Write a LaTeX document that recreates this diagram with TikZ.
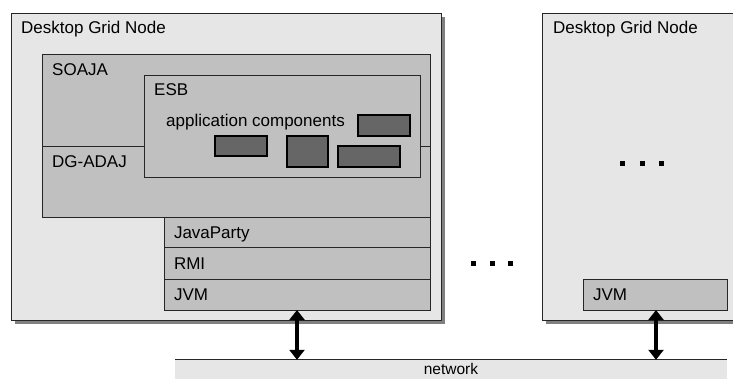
\documentclass[tikz,border=0pt]{standalone}
\usepackage{fontspec}
\setmainfont{Liberation Sans}
\usetikzlibrary{arrows.meta}
\definecolor{paleGray}{HTML}{E6E6E6}
\definecolor{midGray}{HTML}{C0C0C0}
\definecolor{darkGray}{HTML}{666666}
\definecolor{shadowGray}{HTML}{808080}
\tikzset{
  box/.style={draw=black!85,line width=0.8pt},
  layer/.style={box,fill=midGray,anchor=north west,outer sep=0pt,
    minimum height=#1,text width=246pt,inner xsep=10pt,inner ysep=0pt,
    align=left,text height=12pt,text depth=0pt},
  comp/.style={draw=black,line width=1.2pt,fill=darkGray},
  lbl/.style={anchor=base west,inner sep=0pt},
  link/.style={line width=4pt,{Triangle[length=10pt,width=15pt]}-{Triangle[length=10pt,width=15pt]}},
}
\begin{document}
\begin{tikzpicture}[x=1pt,y=-1pt,font=\fontsize{17}{20}\selectfont]
\useasboundingbox (0,0) rectangle (733,378);

% first desktop grid node
\fill[shadowGray] (15,17) rectangle (445,324);
\draw[box,fill=paleGray] (11,13) rectangle (441,320);
\node[lbl] (dgn1) at (21,33.5) {Desktop Grid Node};

% SOAJA / DG-ADAJ
\draw[box,fill=midGray] (42,54) rectangle (430,217);
\draw[box] (42,146) -- (430,146);
\node[lbl] (soaja) at (52,75) {SOAJA};
\node[lbl] (dgadaj) at (52,167) {DG-ADAJ};

% ESB
\draw[box,fill=midGray] (144,75) rectangle (420,177);
\node[lbl] (esb) at (154,95) {ESB};
\node[lbl] (appc) at (166,126) {application components};
\draw[comp] (358,115) rectangle (410,136);
\draw[comp] (215,136) rectangle (267,156);
\draw[comp] (287,136) rectangle (328,167);
\draw[comp] (338,146) rectangle (400,167);

% layers
\node[layer=30pt] (jp) at (164,217) {JavaParty};
\node[layer=32pt] (rmi) at (jp.south west) {RMI};
\node[layer=31pt] (jvmA) at (rmi.south west) {JVM};

% dots between the nodes
\foreach \x in {473,492,510}
  \fill (\x-2.5,260.5) rectangle (\x+2.5,265.5);

% second desktop grid node
\fill[shadowGray] (546,17) rectangle (740,324);
\draw[box,fill=paleGray] (542,13) rectangle (740,320);
\node[lbl] (dgn2) at (553,33.5) {Desktop Grid Node};
\foreach \x in {622,642,661}
  \fill (\x-2.5,160.5) rectangle (\x+2.5,165.5);
\node[layer=31pt,text width=124pt] (jvmB) at (583,279) {JVM};

% network
\node[fill=paleGray,minimum width=552pt,minimum height=18pt,inner sep=0pt,
  font=\fontsize{15.5}{18}\selectfont,text height=11pt,text depth=0pt] (net) at (451,369) {network};
\fill[paleGray] (net.south west) rectangle ([yshift=-4pt]net.south east);
\draw[box] (net.north west) -- (net.north east);

\coordinate (aL) at (297,340);
\coordinate (aR) at (656,340);
\draw[link] (jvmA.south -| aL) -- (net.north -| aL);
\draw[link] (jvmB.south -| aR) -- (net.north -| aR);
\end{tikzpicture}
\end{document}
